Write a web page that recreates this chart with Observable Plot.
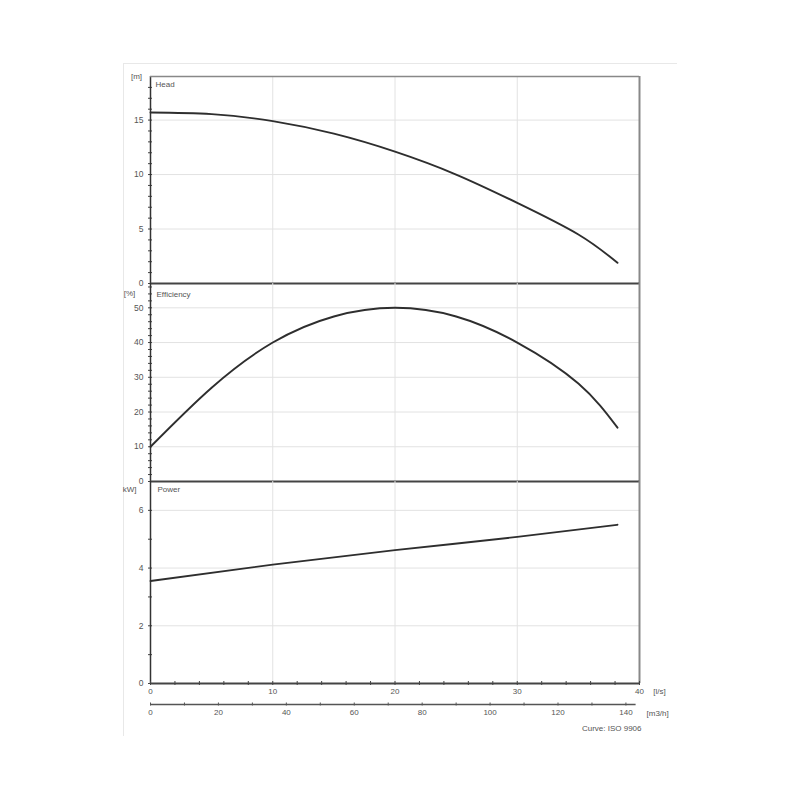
<!DOCTYPE html>
<html>
<head>
<meta charset="utf-8">
<script src="https://cdn.jsdelivr.net/npm/d3@7"></script>
<script src="https://cdn.jsdelivr.net/npm/@observablehq/plot@0.6"></script>
<style>
  html, body { margin: 0; padding: 0; background: #fff; }
  #wrap { position: relative; width: 800px; height: 800px; overflow: hidden; }
  #wrap > .pane { position: absolute; left: 0; }
  #frame { position: absolute; left: 123px; top: 63px; width: 553px; height: 672px;
           border-top: 1px solid #e8e8e8; border-left: 1px solid #e8e8e8; }
</style>
</head>
<body>
<div id="wrap"><div id="frame"></div></div>
<script>
// ---- data ----
const headQ = [0, 5, 10, 15, 20, 25, 30, 35, 38.2];                 // l/s
const headM = [15.7, 15.55, 14.9, 13.75, 12.1, 10.0, 7.4, 4.5, 1.9]; // m
const effQ = [0, 5, 10, 15, 20, 25, 30, 35, 38.2];                  // l/s
const effPct = [10, 27, 40, 47.5, 50, 47.5, 40, 28.2, 15.5];        // %
const powQ = [0, 10, 20, 30, 38.2];                                 // l/s
const powKW = [3.55, 4.12, 4.62, 5.08, 5.5];                        // kW

const xTicksMajor = [0, 10, 20, 30, 40];
const xTicksMinor = d3.range(0, 41, 2);
const m3hTicksMajor = [0, 20, 40, 60, 80, 100, 120, 140];
const m3hTicksMinor = d3.range(0, 145, 10);

const headTicks = [0, 5, 10, 15];
const effTicks = [0, 10, 20, 30, 40, 50];
const powTicks = [0, 2, 4, 6];

const FONT = "Liberation Sans, Arial, sans-serif";
const baseStyle = {fontFamily: FONT, fontSize: "8px", color: "#555", background: "transparent", overflow: "visible"};
const GRID = "#e2e2e2";
const CURVE = "#2e2e2e";
const TXT = "#555";

function label(txt, anchor, dx, dy, textAnchor) {
  return Plot.text([txt], {frameAnchor: anchor, text: d => d, dx, dy, textAnchor, lineAnchor: "middle", fill: TXT, fontSize: 8});
}

function panel({top, height, mTop, mBottom, yDomain, yMajor, yMinor, data, curve, name, unit, unitDx, unitDy, unitAnchor, nameDx, nameDy, topBorder, bottomAxis}) {
  const marks = [
    Plot.gridX([10, 20, 30], {stroke: GRID, strokeOpacity: 1}),
    Plot.gridY(yMajor.filter(v => v > 0), {stroke: GRID, strokeOpacity: 1}),
    Plot.axisY(yMinor, {tickSize: 4, dx: 2, tickFormat: () => "", stroke: "#444", label: null}),
    Plot.axisY(yMajor, {tickSize: 0, tickPadding: 7, fontSize: 8.5, fill: TXT, label: null}),
    Plot.ruleX([40], {stroke: "#888", strokeWidth: 2}),
    Plot.ruleX([0], {stroke: "#333", strokeWidth: 1.5}),
    Plot.ruleY([0], {stroke: "#444", strokeWidth: 2}),
    Plot.line(data, {x: "q", y: "v", curve, stroke: CURVE, strokeWidth: 1.9}),
    label(name, "top-left", nameDx, nameDy, "start"),
    label(unit, "top-left", unitDx, unitDy, unitAnchor)
  ];
  if (topBorder) marks.push(Plot.ruleY([yDomain[1]], {stroke: "#888", strokeWidth: 1.5}));
  if (bottomAxis) {
    marks.push(Plot.axisX(xTicksMinor, {tickSize: 4, dy: -2, tickFormat: () => "", stroke: "#444", label: null}));
    marks.push(Plot.axisX(xTicksMajor, {tickSize: 0, tickPadding: 5, fontSize: 8, fill: TXT, label: null}));
    marks.push(label("[l/s]", "bottom-right", 20, 8, "middle"));
  }
  const svg = Plot.plot({
    width: 800, height,
    marginLeft: 150, marginRight: 161, marginTop: mTop, marginBottom: mBottom,
    style: baseStyle,
    x: {domain: [0, 40], axis: null},
    y: {domain: yDomain, axis: null},
    marks
  });
  svg.classList.add("pane");
  svg.style.top = top + "px";
  svg.style.position = "absolute";
  document.getElementById("wrap").appendChild(svg);
}

panel({
  top: 56, height: 232, mTop: 20, mBottom: 5,
  yDomain: [0, 19], yMajor: headTicks, yMinor: d3.range(0, 19, 1),
  data: headQ.map((q, i) => ({q, v: headM[i]})), curve: "natural",
  name: "Head", unit: "[m]", unitDx: -14, unitDy: -0.5, unitAnchor: "middle", nameDx: 5, nameDy: 8,
  topBorder: true, bottomAxis: false
});
panel({
  top: 278, height: 208, mTop: 5, mBottom: 5,
  yDomain: [0, 57], yMajor: effTicks, yMinor: d3.range(0, 57, 2),
  data: effQ.map((q, i) => ({q, v: effPct[i]})), curve: "natural",
  name: "Efficiency", unit: "[%]", unitDx: -21, unitDy: 9.5, unitAnchor: "middle", nameDx: 6, nameDy: 10.5,
  topBorder: false, bottomAxis: false
});
panel({
  top: 476, height: 232, mTop: 5, mBottom: 25,
  yDomain: [0, 7], yMajor: powTicks, yMinor: d3.range(0, 8, 1),
  data: powQ.map((q, i) => ({q, v: powKW[i]})), curve: "monotone-x",
  name: "Power", unit: "kW]", unitDx: -14, unitDy: 8, unitAnchor: "end", nameDx: 7, nameDy: 8,
  topBorder: false, bottomAxis: true
});

// secondary flow axis in m3/h
const ax2 = Plot.plot({
  width: 800, height: 50,
  marginLeft: 150, marginRight: 161, marginTop: 0, marginBottom: 41,
  style: baseStyle,
  x: {domain: [0, 144], axis: null},
  y: {domain: [0, 1], axis: null},
  marks: [
    Plot.ruleY([0], {x1: 0, x2: 143, stroke: "#555", strokeWidth: 1.5}),
    Plot.axisX(m3hTicksMinor, {tickSize: 3, dy: -1.5, tickFormat: () => "", stroke: "#555", label: null}),
    Plot.axisX(m3hTicksMajor, {tickSize: 0, tickPadding: 5, fontSize: 8, fill: TXT, label: null}),
    label("[m3/h]", "bottom-right", 7, 9, "start"),
    label("Curve: ISO 9906", "bottom-right", 2, 24, "end")
  ]
});
ax2.classList.add("pane");
ax2.style.position = "absolute";
ax2.style.top = "695px";
document.getElementById("wrap").appendChild(ax2);
</script>
</body>
</html>
